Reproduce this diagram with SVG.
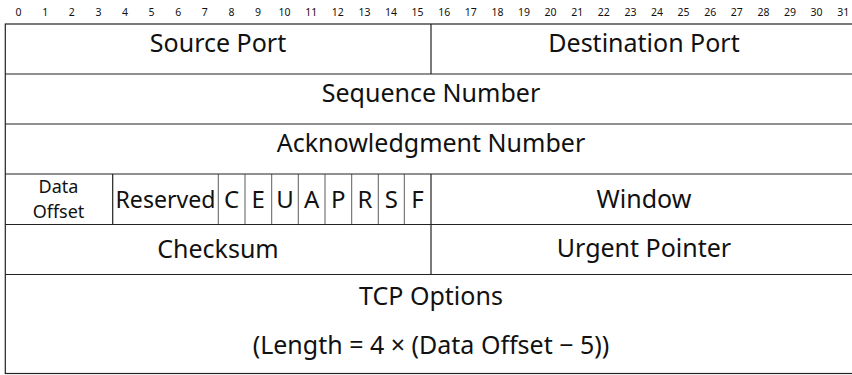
<svg xmlns="http://www.w3.org/2000/svg" width="852" height="375" viewBox="0 0 852 375">
<style>
text{font-family:"Noto Sans","Open Sans",sans-serif;fill:#111;text-anchor:middle}
.bit{font-size:10.5px}
.f{font-size:25px}
.s{font-size:18px}
.fl{font-size:24px}
.ln{stroke:#222;stroke-width:1.2;fill:none}
.tn{stroke:#333;stroke-width:0.8;fill:none}
</style>
<rect width="852" height="375" fill="#fff"/>
<g id="bits">
<text class="bit" x="18.6" y="16">0</text><text class="bit" x="45.2" y="16">1</text><text class="bit" x="71.8" y="16">2</text><text class="bit" x="98.4" y="16">3</text><text class="bit" x="125" y="16">4</text><text class="bit" x="151.6" y="16">5</text><text class="bit" x="178.2" y="16">6</text><text class="bit" x="204.8" y="16">7</text><text class="bit" x="231.4" y="16">8</text><text class="bit" x="258" y="16">9</text><text class="bit" x="284.6" y="16">10</text><text class="bit" x="311.2" y="16">11</text><text class="bit" x="337.8" y="16">12</text><text class="bit" x="364.4" y="16">13</text><text class="bit" x="391" y="16">14</text><text class="bit" x="417.6" y="16">15</text><text class="bit" x="444.2" y="16">16</text><text class="bit" x="470.8" y="16">17</text><text class="bit" x="497.4" y="16">18</text><text class="bit" x="524" y="16">19</text><text class="bit" x="550.6" y="16">20</text><text class="bit" x="577.2" y="16">21</text><text class="bit" x="603.8" y="16">22</text><text class="bit" x="630.4" y="16">23</text><text class="bit" x="657" y="16">24</text><text class="bit" x="683.6" y="16">25</text><text class="bit" x="710.2" y="16">26</text><text class="bit" x="736.8" y="16">27</text><text class="bit" x="763.4" y="16">28</text><text class="bit" x="790" y="16">29</text><text class="bit" x="816.6" y="16">30</text><text class="bit" x="843.2" y="16">31</text>
</g>
<g id="grid">
<rect class="ln" x="5.3" y="24" width="851.5" height="349.5"/>
<line class="ln" x1="5" y1="74" x2="857" y2="74"/>
<line class="ln" x1="5" y1="124" x2="857" y2="124"/>
<line class="ln" x1="5" y1="174" x2="857" y2="174"/>
<line class="ln" x1="5" y1="224.5" x2="857" y2="224.5"/>
<line class="ln" x1="5" y1="274.5" x2="857" y2="274.5"/>
<line class="ln" x1="431" y1="24" x2="431" y2="74"/>
<line class="ln" x1="431" y1="174" x2="431" y2="274.5"/>
<line class="ln" x1="112.7" y1="174" x2="112.7" y2="224.5"/>
<line class="tn" x1="218.3" y1="174" x2="218.3" y2="224.5"/>
<line class="tn" x1="245" y1="174" x2="245" y2="224.5"/>
<line class="tn" x1="271.7" y1="174" x2="271.7" y2="224.5"/>
<line class="tn" x1="298.3" y1="174" x2="298.3" y2="224.5"/>
<line class="tn" x1="325" y1="174" x2="325" y2="224.5"/>
<line class="tn" x1="351.7" y1="174" x2="351.7" y2="224.5"/>
<line class="tn" x1="378.3" y1="174" x2="378.3" y2="224.5"/>
<line class="tn" x1="404.3" y1="174" x2="404.3" y2="224.5"/>
</g>
<g id="source-port"><text class="f" x="218" y="52">Source Port</text></g>
<g id="destination-port"><text class="f" x="644" y="52">Destination Port</text></g>
<g id="sequence-number"><text class="f" x="431" y="102">Sequence Number</text></g>
<g id="ack-number"><text class="f" x="431" y="152">Acknowledgment Number</text></g>
<g id="data-offset"><text class="s" x="58.5" y="193">Data</text><text class="s" x="58.5" y="218">Offset</text></g>
<g id="reserved"><text class="fl" x="165.5" y="208" textLength="100" lengthAdjust="spacingAndGlyphs">Reserved</text></g>
<g id="flags">
<text class="fl" x="231.7" y="208">C</text><text class="fl" x="258.3" y="208">E</text><text class="fl" x="285" y="208">U</text><text class="fl" x="311.7" y="208">A</text><text class="fl" x="338.3" y="208">P</text><text class="fl" x="365" y="208">R</text><text class="fl" x="391.3" y="208">S</text><text class="fl" x="417.6" y="208">F</text>
</g>
<g id="window"><text class="f" x="644" y="208">Window</text></g>
<g id="checksum"><text class="f" x="218" y="258">Checksum</text></g>
<g id="urgent-pointer"><text class="f" x="644" y="257">Urgent Pointer</text></g>
<g id="tcp-options"><text class="f" x="431" y="305">TCP Options</text><text class="f" x="431" y="354">(Length = 4 × (Data Offset − 5))</text></g>
</svg>
